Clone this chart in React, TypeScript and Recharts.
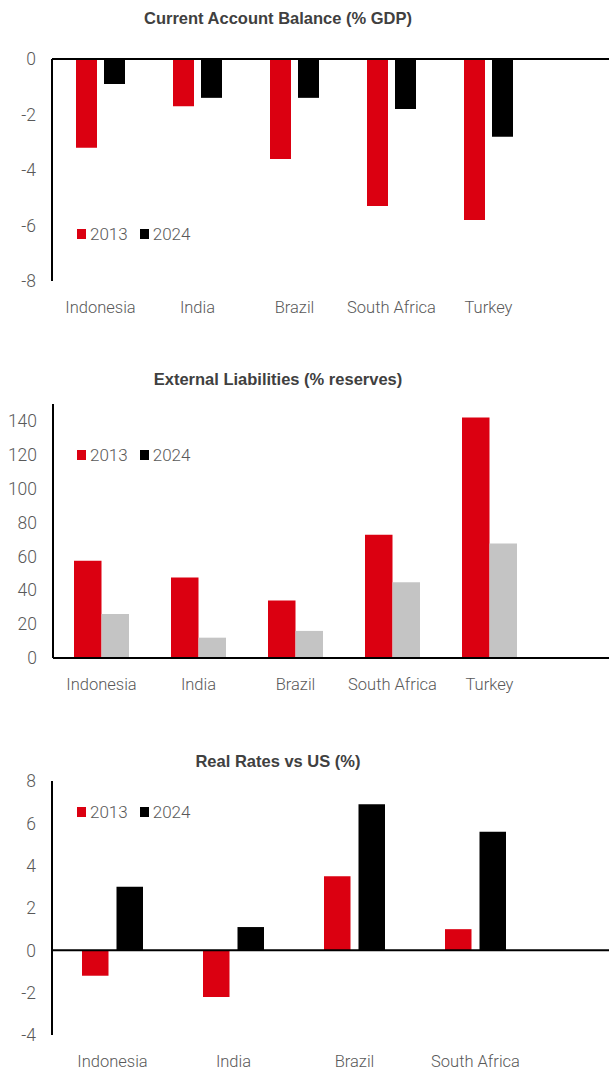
import { Bar, BarChart, ReferenceLine, XAxis, YAxis } from 'recharts';

const RED = '#db0011';

const countries = ['Indonesia', 'India', 'Brazil', 'South Africa', 'Turkey'];
const rateCountries = ['Indonesia', 'India', 'Brazil', 'South Africa'];

const currentAccount2013 = [-3.2, -1.7, -3.6, -5.3, -5.8];
const currentAccount2024 = [-0.9, -1.4, -1.4, -1.8, -2.8];

const liabilities2013 = [57.5, 47.5, 34, 72.8, 142];
const liabilities2024 = [26, 12, 16, 44.7, 67.6];

const realRates2013 = [-1.2, -2.2, 3.5, 1.0];
const realRates2024 = [3.0, 1.1, 6.9, 5.6];

const currentAccountTicks = [-8, -6, -4, -2, 0];
const liabilitiesTicks = [0, 20, 40, 60, 80, 100, 120, 140];
const realRatesTicks = [-4, -2, 0, 2, 4, 6, 8];

const legendItems = [
  { label: '2013', color: RED },
  { label: '2024', color: '#000000' },
];

const rows = (names: string[], a: number[], b: number[]) =>
  names.map((name, i) => ({ name, y2013: a[i], y2024: b[i] }));

const tickFont = { fontFamily: 'Roboto, sans-serif', fontWeight: 300, fill: '#595959' };

interface PanelProps {
  title: string;
  data: { name: string; y2013: number; y2024: number }[];
  top: number;
  height: number;
  plotTop: number;
  domain: [number, number];
  ticks: number[];
  axisWidth: number;
  padRight: number;
  barSize: number;
  barGap: number;
  color2024: string;
  titleY: number;
  legendY: number;
}

function Panel(p: PanelProps) {
  return (
    <div style={{ position: 'absolute', left: 0, top: p.top, width: 609, height: p.height }}>
      <div
        style={{
          position: 'absolute',
          left: 0,
          width: 556,
          top: p.titleY - 10,
          height: 20,
          lineHeight: '20px',
          textAlign: 'center',
          fontFamily: '"Liberation Sans", Arial, sans-serif',
          fontWeight: 700,
          fontSize: 16.5,
          color: '#404040',
        }}
      >
        {p.title}
      </div>
      <BarChart
        width={609}
        height={p.height}
        data={p.data}
        margin={{ top: p.plotTop, right: 0, bottom: 0, left: 0 }}
        barSize={p.barSize}
        barGap={p.barGap}
      >
        <XAxis
          dataKey="name"
          axisLine={false}
          tickLine={false}
          height={50}
          tickSize={0}
          tickMargin={20}
          padding={{ left: 0, right: p.padRight }}
          interval={0}
          tick={{ ...tickFont, fontSize: 16.5 }}
        />
        <YAxis
          width={p.axisWidth}
          domain={p.domain}
          ticks={p.ticks}
          allowDataOverflow
          tickLine={false}
          tickSize={0}
          tickMargin={16}
          axisLine={{ stroke: '#000', strokeWidth: 2 }}
          tick={{ ...tickFont, fontSize: 17.5 }}
        />
        <Bar dataKey="y2013" fill={RED} isAnimationActive={false} />
        <Bar dataKey="y2024" fill={p.color2024} isAnimationActive={false} />
        <ReferenceLine y={0} stroke="#000" strokeWidth={2} />
      </BarChart>
      <div
        style={{
          position: 'absolute',
          left: 77,
          top: p.legendY - 10,
          height: 20,
          display: 'flex',
          alignItems: 'center',
          fontFamily: 'Roboto, sans-serif',
          fontWeight: 300,
          fontSize: 17,
          color: '#595959',
        }}
      >
        {legendItems.map((item) => (
          <div key={item.label} style={{ display: 'flex', alignItems: 'center', marginRight: 12 }}>
            <span style={{ width: 9, height: 10, background: item.color, marginRight: 4 }} />
            <span>{item.label}</span>
          </div>
        ))}
      </div>
    </div>
  );
}

export default function App() {
  return (
    <div
      style={{
        position: 'absolute',
        left: 0,
        top: 0,
        width: 609,
        height: 1073,
        overflow: 'hidden',
        background: '#ffffff',
      }}
    >
      <Panel
        title="Current Account Balance (% GDP)"
        data={rows(countries, currentAccount2013, currentAccount2024)}
        top={0}
        height={331}
        plotTop={59}
        domain={[-8, 0]}
        ticks={currentAccountTicks}
        axisWidth={52}
        padRight={72}
        barSize={21}
        barGap={7}
        color2024="#000000"
        titleY={18}
        legendY={233.5}
      />
      <Panel
        title="External Liabilities (% reserves)"
        data={rows(countries, liabilities2013, liabilities2024)}
        top={360}
        height={348}
        plotTop={44}
        domain={[0, 150]}
        ticks={liabilitiesTicks}
        axisWidth={53}
        padRight={71}
        barSize={27.5}
        barGap={0}
        color2024="#c4c4c4"
        titleY={19}
        legendY={95}
      />
      <Panel
        title="Real Rates vs US (%)"
        data={rows(rateCountries, realRates2013, realRates2024)}
        top={740}
        height={345}
        plotTop={41}
        domain={[-4, 8]}
        ticks={realRatesTicks}
        axisWidth={52}
        padRight={73}
        barSize={26.5}
        barGap={8}
        color2024="#000000"
        titleY={20.5}
        legendY={72}
      />
    </div>
  );
}
